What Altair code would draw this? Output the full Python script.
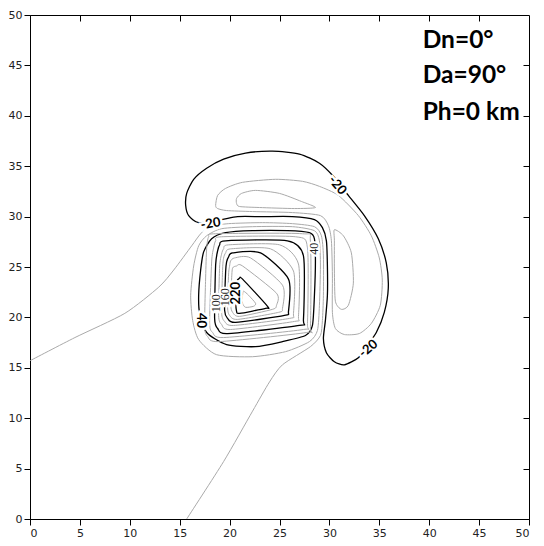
import altair as alt
import pandas as pd

# ---------------- data (data units) ----------------
tick_values = list(range(0, 55, 5))
inner_ticks = list(range(5, 50, 5))

# closed contour loops: (level, points)
c_m20 = [(16.9, 29.4), (15.9, 30.1), (15.6, 31.1), (15.7, 32.3), (16.4, 33.7), (17.7, 34.8),
         (19.4, 35.7), (21.6, 36.3), (24.3, 36.5), (27.0, 36.2), (29.0, 35.3), (30.4, 34.0),
         (31.9, 32.1), (33.5, 30.1), (34.9, 27.8), (35.7, 25.4), (35.9, 22.9), (35.5, 20.5),
         (34.7, 18.5), (33.7, 17.1), (32.9, 16.0), (31.5, 15.3), (30.5, 15.6), (29.7, 16.5),
         (29.4, 17.9), (29.6, 19.7), (29.8, 22.2), (29.8, 25.1), (29.7, 27.6), (29.3, 28.9),
         (28.5, 29.7), (26.3, 30.0), (23.3, 30.0), (20.8, 30.0), (19.2, 29.7)]
c_m40 = [(18.6, 31.1), (18.8, 32.1), (19.6, 32.8), (21.3, 33.4), (24.6, 33.7), (27.3, 33.5),
         (29.0, 33.0), (30.9, 32.1), (32.9, 30.1), (34.2, 28.1), (35.0, 25.9), (35.3, 23.7),
         (35.1, 21.2), (34.2, 19.4), (33.0, 18.4), (31.5, 18.3), (30.6, 18.9), (30.3, 20.5),
         (30.3, 24.2), (30.2, 27.6), (29.9, 29.1), (29.1, 30.1), (26.3, 30.4), (22.3, 30.5),
         (19.7, 30.6), (18.8, 30.8)]
c_m60_top = [(20.7, 31.8), (21.2, 32.3), (22.6, 32.6), (25.0, 32.3), (27.2, 31.5), (28.6, 30.9),
             (26.5, 30.8), (23.0, 30.9), (21.0, 31.0), (20.7, 31.3)]
c_m60_right = [(30.5, 28.7), (31.4, 28.1), (32.2, 26.4), (32.4, 23.4), (31.9, 21.2), (31.2, 20.8),
               (30.6, 21.6), (30.5, 24.7), (30.5, 27.6)]
c_20 = [(16.9, 27.1), (16.4, 25.1), (16.1, 22.2), (16.3, 19.7), (16.9, 17.8), (18.7, 16.3),
        (22.3, 16.1), (25.6, 16.6), (28.0, 17.6), (28.8, 18.7), (29.0, 21.2), (29.1, 25.1),
        (29.0, 27.6), (28.5, 28.6), (26.3, 29.0), (22.3, 29.0), (19.2, 28.8), (17.7, 28.1)]
c_40 = [(17.7, 18.5), (19.7, 17.3), (22.6, 17.1), (25.3, 17.6), (27.6, 18.2), (28.3, 19.2),
        (28.5, 22.2), (28.6, 25.6), (28.5, 27.8), (28.0, 28.4), (25.8, 28.6), (22.3, 28.6),
        (19.6, 28.4), (18.2, 27.8), (17.4, 26.5), (17.1, 24.7), (16.9, 22.2), (17.0, 20.4)]
c_60 = [(17.9, 28.0), (18.6, 28.3), (27.3, 28.3), (28.1, 27.5), (28.1, 19.1), (27.7, 18.5),
        (19.0, 17.6), (17.8, 18.1), (17.5, 19.1), (17.6, 24.0), (17.7, 26.8)]
c_80 = [(18.6, 27.6), (19.2, 28.0), (26.6, 28.0), (27.8, 26.9), (27.8, 19.4), (27.4, 18.8),
        (19.4, 18.0), (18.3, 18.5), (18.0, 19.5), (18.2, 25.5), (18.4, 26.9)]
c_100 = [(19.0, 27.2), (19.6, 27.6), (25.8, 27.6), (27.4, 26.1), (27.4, 19.8), (27.0, 19.2),
         (19.8, 18.4), (18.8, 18.9), (18.5, 19.9), (18.6, 25.2), (18.8, 26.6)]
c_120 = [(19.4, 26.8), (19.9, 27.2), (25.0, 27.2), (26.9, 25.3), (26.9, 20.1), (26.5, 19.6),
         (20.1, 18.8), (19.2, 19.3), (18.9, 20.2), (19.0, 25.0), (19.2, 26.3)]
c_140 = [(19.6, 26.4), (20.1, 26.8), (24.1, 26.8), (26.4, 24.6), (26.4, 20.4), (26.0, 19.9),
         (20.4, 19.2), (19.5, 19.6), (19.2, 20.5), (19.3, 24.8), (19.4, 25.9)]
c_160 = [(19.9, 26.0), (20.3, 26.4), (23.1, 26.4), (25.9, 23.8), (25.9, 20.6), (25.5, 20.2),
         (20.6, 19.5), (19.8, 19.9), (19.5, 20.7), (19.6, 24.5), (19.7, 25.5)]
c_180 = [(20.1, 25.6), (20.5, 25.9), (22.1, 25.9), (25.3, 23.2), (25.3, 20.9), (24.9, 20.5),
         (20.8, 19.8), (20.0, 20.2), (19.8, 21.0), (19.9, 24.3), (20.0, 25.1)]
c_200 = [(20.3, 24.9), (20.7, 25.1), (21.3, 25.1), (24.7, 22.4), (24.7, 21.2), (24.3, 20.8),
         (21.0, 20.1), (20.3, 20.5), (20.1, 21.3), (20.2, 23.8)]
c_220 = [(21.0, 23.9), (21.3, 23.8), (23.8, 21.1), (23.6, 20.9), (21.0, 20.4), (20.7, 20.6),
         (20.6, 22.0), (20.7, 23.5)]
c_240 = [(21.4, 22.6), (21.9, 22.2), (22.6, 21.4), (22.4, 21.1), (21.6, 21.0), (21.3, 21.4),
         (21.3, 22.2)]

# open zero contour (from the left edge, round the blob, to the bottom edge)
c_0 = [(0.0, 15.7), (4.5, 18.0), (9.5, 20.4), (12.9, 23.0), (14.4, 24.7), (16.2, 27.1),
       (17.1, 28.3), (18.0, 29.0), (19.9, 29.3), (23.3, 29.4), (26.3, 29.3), (28.5, 29.0),
       (29.2, 28.1), (29.4, 26.1), (29.4, 22.2), (29.3, 19.7), (29.1, 18.2), (28.1, 17.1),
       (25.3, 15.3), (24.0, 13.6), (22.3, 10.7), (19.4, 5.7), (15.7, 0.0)]

closed_contours = [(-20, c_m20), (-40, c_m40), (-60, c_m60_top), (-60, c_m60_right),
                   (20, c_20), (40, c_40), (60, c_60), (80, c_80), (100, c_100),
                   (120, c_120), (140, c_140), (160, c_160), (180, c_180), (200, c_200),
                   (220, c_220), (240, c_240)]
open_contours = [(0, c_0)]

# contour labels
bold_labels = ["-20", "-20", "-20", "40", "220"]
bold_x = [18.1, 30.8, 33.9, 17.1, 20.6]
bold_y = [29.3, 33.1, 16.9, 19.7, 22.4]
bold_angle = [350, 50, 320, 90, 270]
thin_labels = ["40", "100", "160"]
thin_x = [28.5, 18.6, 19.5]
thin_y = [26.8, 21.4, 22.0]
thin_angle = [270, 270, 270]

notes = ["Dn=0°", "Da=90°", "Ph=0 km"]
notes_x = [39.35, 39.35, 39.35]
notes_y = [47.4, 43.9, 40.3]


def to_rows(contours, start):
    rows = []
    for k, (lvl, pts) in enumerate(contours):
        for i, (x, y) in enumerate(pts):
            rows.append(dict(cid=start + k, level=lvl, i=i, x=x, y=y,
                             kind="major" if lvl % 60 == 40 else "minor"))
    return rows


closed_df = pd.DataFrame(to_rows(closed_contours, 0))
open_df = pd.DataFrame(to_rows(open_contours, 100))
bold_df = pd.DataFrame(dict(t=bold_labels, x=bold_x, y=bold_y, a=bold_angle))
thin_df = pd.DataFrame(dict(t=thin_labels, x=thin_x, y=thin_y, a=thin_angle))
notes_df = pd.DataFrame(dict(t=notes, x=notes_x, y=notes_y))

xscale = alt.Scale(domain=[0, 50], nice=False, zero=False)
yscale = alt.Scale(domain=[0, 50], nice=False, zero=False)

axis_common = dict(values=tick_values, tickSize=6, tickColor="black", domainColor="black",
                   labelFont="DejaVu Sans", labelFontSize=11, labelColor="#222",
                   grid=False, labelPadding=2, title=None)
x_bottom = alt.X("x:Q", scale=xscale, axis=alt.Axis(orient="bottom", **axis_common))
y_left = alt.Y("y:Q", scale=yscale, axis=alt.Axis(orient="left", **axis_common))
x_none = alt.X("x:Q", scale=xscale, axis=None)
y_none = alt.Y("y:Q", scale=yscale, axis=None)

stroke_enc = alt.Stroke("kind:N", scale=alt.Scale(domain=["major", "minor"],
                                                  range=["#000000", "#aaaaaa"]), legend=None)
width_enc = alt.StrokeWidth("kind:N", scale=alt.Scale(domain=["major", "minor"],
                                                      range=[1.3, 1.0]), legend=None)

closed_layer = alt.Chart(closed_df).mark_line(interpolate="cardinal-closed", tension=0.3).encode(
    x=x_bottom, y=y_left, detail="cid:N", order="i:Q", stroke=stroke_enc, strokeWidth=width_enc)

open_layer = alt.Chart(open_df).mark_line(interpolate="cardinal", tension=0.3).encode(
    x=x_none, y=y_none, detail="cid:N", order="i:Q", stroke=stroke_enc, strokeWidth=width_enc)

bold_halo = alt.Chart(bold_df).mark_text(font="Lato", fontWeight="bold", fontSize=13,
                                         stroke="white", strokeWidth=5, fill="white").encode(
    x=x_none, y=y_none, text="t:N", angle=alt.Angle("a:Q", scale=None))
bold_text = alt.Chart(bold_df).mark_text(font="Lato", fontWeight="bold", fontSize=13,
                                         color="black").encode(
    x=x_none, y=y_none, text="t:N", angle=alt.Angle("a:Q", scale=None))
thin_halo = alt.Chart(thin_df).mark_text(font="Liberation Serif", fontSize=12,
                                         stroke="white", strokeWidth=4, fill="white").encode(
    x=x_none, y=y_none, text="t:N", angle=alt.Angle("a:Q", scale=None))
thin_text = alt.Chart(thin_df).mark_text(font="Liberation Serif", fontSize=12,
                                         color="#222").encode(
    x=x_none, y=y_none, text="t:N", angle=alt.Angle("a:Q", scale=None))

inner_common = dict(values=inner_ticks, tickSize=6, tickColor="black", labels=False,
                    domain=False, grid=False, title=None, offset=-6)
notes_layer = alt.Chart(notes_df).mark_text(font="Lato", fontWeight="bold", fontSize=24.5,
                                            align="left", baseline="middle", color="black").encode(
    x=alt.X("x:Q", scale=xscale, axis=alt.Axis(orient="top", **inner_common)),
    y=alt.Y("y:Q", scale=yscale, axis=alt.Axis(orient="right", **inner_common)),
    text="t:N")

chart = alt.layer(closed_layer, open_layer, bold_halo, thin_halo, bold_text, thin_text,
                  notes_layer).resolve_axis(x="independent", y="independent").properties(
    width=499, height=504,
    autosize=alt.AutoSizeParams(type="none"),
    padding={"left": 22, "top": 7, "right": 7, "bottom": 19},
).configure_view(stroke="black", strokeWidth=1)

chart.save("out.html", embed_options={"renderer": "svg", "actions": False})
